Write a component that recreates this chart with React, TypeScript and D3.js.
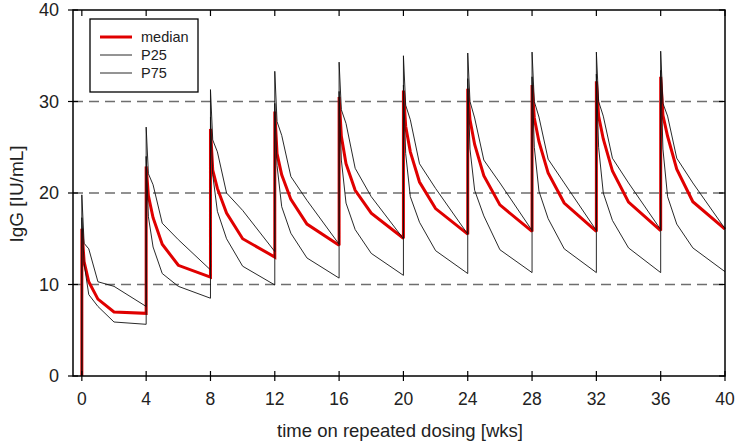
import React from "react";
import * as d3 from "d3";

// time (weeks) of each sample; a repeated time marks the jump at a dose
const times = [
  0,
  0, 0.14, 0.43, 1, 2, 4,
  4, 4.14, 4.43, 5, 6, 8,
  8, 8.14, 8.43, 9, 10, 12,
  12, 12.14, 12.43, 13, 14, 16,
  16, 16.14, 16.43, 17, 18, 20,
  20, 20.14, 20.43, 21, 22, 24,
  24, 24.14, 24.43, 25, 26, 28,
  28, 28.14, 28.43, 29, 30, 32,
  32, 32.14, 32.43, 33, 34, 36,
  36, 36.14, 36.43, 37, 38, 40,
];

const median = [
  0,
  16.1, 12.5, 10.3, 8.4, 7.0, 6.85,
  22.9, 19.7, 17.3, 14.4, 12.1, 10.8,
  27.0, 22.5, 20.5, 17.8, 15.0, 13.0,
  28.9, 24.3, 22.0, 19.3, 16.6, 14.3,
  30.5, 26.2, 23.2, 20.3, 17.8, 15.05,
  31.2, 27.3, 24.5, 21.2, 18.3, 15.5,
  31.4, 28.0, 25.3, 21.9, 18.7, 15.8,
  31.8, 28.2, 25.6, 22.2, 18.9, 15.8,
  32.2, 28.4, 25.9, 22.4, 19.0, 15.9,
  32.7, 28.5, 26.2, 22.6, 19.05, 16.05,
];

const p25 = [
  0,
  17.3, 12.3, 8.9, 7.6, 5.9, 5.65,
  24.0, 17.4, 14.1, 11.2, 9.8, 8.5,
  28.3, 22.0, 18.0, 15.0, 12.0, 9.95,
  29.8, 23.0, 18.5, 15.6, 12.9, 10.7,
  31.1, 23.6, 18.9, 16.0, 13.4, 11.0,
  31.8, 24.3, 19.6, 16.8, 13.7, 11.2,
  32.5, 24.8, 20.3, 17.5, 13.8, 11.3,
  32.7, 25.0, 20.2, 17.2, 13.9, 11.3,
  33.0, 25.0, 20.0, 17.0, 14.0, 11.3,
  33.4, 24.8, 19.6, 16.6, 14.0, 11.4,
];

const p75 = [
  0,
  19.8, 14.5, 13.9, 10.3, 9.8, 7.6,
  27.2, 22.1, 20.9, 16.7, 14.9, 11.6,
  31.3, 25.8, 24.5, 20.0, 18.1, 13.6,
  33.3, 27.8, 26.3, 21.8, 19.2, 14.4,
  34.3, 29.1, 27.6, 22.7, 19.6, 15.0,
  35.0, 29.6, 28.0, 23.2, 20.5, 15.5,
  35.3, 30.0, 28.2, 23.6, 21.1, 15.9,
  35.4, 30.0, 28.3, 23.7, 21.1, 15.9,
  35.4, 30.0, 28.4, 23.8, 21.1, 16.0,
  35.5, 29.8, 28.4, 23.8, 21.1, 16.1,
];

const xTicks = [0, 4, 8, 12, 16, 20, 24, 28, 32, 36, 40];
const yTicks = [0, 10, 20, 30, 40];
const gridValues = [10, 20, 30];
const legendLabels = ["median", "P25", "P75"];

const W = 738;
const H = 446;
const M = { left: 73, right: 725, top: 10, bottom: 376 };
const FONT = "'Liberation Sans', Arial, sans-serif";

export default function App() {
  const x = d3.scaleLinear().domain([-0.55, 40]).range([M.left, M.right]);
  const y = d3.scaleLinear().domain([0, 40]).range([M.bottom, M.top]);

  const line = (vals: number[]) =>
    d3
      .line<number>()
      .x((_, i) => x(times[i]))
      .y((v) => y(v))(vals) as string;

  const series = [
    { name: legendLabels[0], vals: median, color: "#e00000", width: 3 },
    { name: legendLabels[1], vals: p25, color: "#111111", width: 0.9 },
    { name: legendLabels[2], vals: p75, color: "#111111", width: 0.9 },
  ];

  const tk = 5;

  return (
    <svg
      width={W}
      height={H}
      style={{ position: "absolute", left: 0, top: 0, background: "#fff" }}
      fontFamily={FONT}
    >
      <rect x={0} y={0} width={W} height={H} fill="#fff" />
      {gridValues.map((g) => (
        <line
          key={"g" + g}
          x1={M.left}
          x2={M.right}
          y1={y(g)}
          y2={y(g)}
          stroke="#6e6e6e"
          strokeWidth={1.4}
          strokeDasharray="10,6"
        />
      ))}
      {series.map((s) => (
        <path
          key={s.name}
          d={line(s.vals)}
          fill="none"
          stroke={s.color}
          strokeWidth={s.width}
          strokeLinejoin="miter"
          strokeMiterlimit={2}
        />
      ))}
      <rect
        x={M.left}
        y={M.top}
        width={M.right - M.left}
        height={M.bottom - M.top}
        fill="none"
        stroke="#000"
        strokeWidth={1.5}
      />
      {xTicks.map((t) => (
        <g key={"x" + t}>
          <line x1={x(t)} x2={x(t)} y1={M.bottom - tk} y2={M.bottom + tk} stroke="#000" strokeWidth={1.2} />
          <line x1={x(t)} x2={x(t)} y1={M.top} y2={M.top + tk + 1} stroke="#000" strokeWidth={1.2} />
          <text x={x(t)} y={405} fontSize={17.5} textAnchor="middle" fill="#222">
            {t}
          </text>
        </g>
      ))}
      {yTicks.map((t) => (
        <g key={"y" + t}>
          <line x1={M.left - tk} x2={M.left + tk} y1={y(t)} y2={y(t)} stroke="#000" strokeWidth={1.2} />
          <line x1={M.right - tk - 1} x2={M.right} y1={y(t)} y2={y(t)} stroke="#000" strokeWidth={1.2} />
          <text x={59} y={y(t)} dy="0.36em" fontSize={18} textAnchor="end" fill="#222">
            {t}
          </text>
        </g>
      ))}
      <text x={400} y={437} fontSize={18.5} textAnchor="middle" fill="#222">
        time on repeated dosing [wks]
      </text>
      <text
        transform={`translate(22.5,194) rotate(-90)`}
        fontSize={19}
        textAnchor="middle"
        fill="#222"
      >
        IgG [IU/mL]
      </text>
      <g>
        <rect x={90} y={19} width={108} height={73} fill="#fff" stroke="#000" strokeWidth={1.3} />
        {series.map((s, i) => (
          <g key={"l" + s.name}>
            <line x1={100} x2={132} y1={37 + i * 18} y2={37 + i * 18} stroke={s.color} strokeWidth={s.width} />
            <text x={141} y={37 + i * 18} dy="0.36em" fontSize={14.5} fill="#222">
              {s.name}
            </text>
          </g>
        ))}
      </g>
    </svg>
  );
}
